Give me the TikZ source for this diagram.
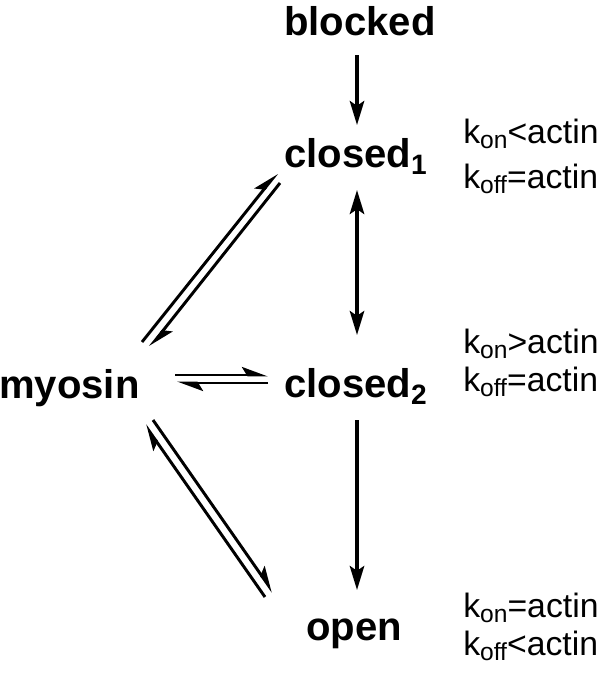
\documentclass[tikz,border=0pt]{standalone}
\usepackage{fontspec}
\setmainfont{Liberation Sans}
\usetikzlibrary{arrows.meta}

\newcommand\lowsub[1]{\raisebox{-0.3ex}{\fontsize{17.5}{18}\selectfont #1}}

\begin{document}
\begin{tikzpicture}[x=0.025cm, y=-0.025cm]

%% ── shared styles ─────────────────────────────────────────────────────────
\tikzset{
  state/.style={inner sep=0pt, font=\fontsize{28.5}{32}\selectfont\bfseries},
  rate/.style ={inner sep=0pt, anchor=base west, font=\fontsize{24}{28}\selectfont},
  arr/.style  ={-{Stealth[length=6mm, width=3.6mm, inset=1.2mm]}, line width=2.5pt},
  darr/.style ={{Stealth[length=6mm, width=3.6mm, inset=1.2mm]}-{Stealth[length=6mm, width=3.6mm, inset=1.2mm]}, line width=2.5pt},
  harp/.style ={-{Stealth[harpoon, length=5.5mm, width=4mm, inset=1.2mm]}, line width=2.1pt},
}

\useasboundingbox (0,0) rectangle (600,677);

%% ── states ────────────────────────────────────────────────────────────────
\node[state, anchor=base]      (blocked) at (360,35)  {blocked};
\node[state, anchor=base west] (closedA) at (284,167) {closed\textsubscript{1}};
\node[state, anchor=base west] (closedB) at (284,397) {closed\textsubscript{2}};
\node[state, anchor=base west] (myosin)  at (-1,398)  {myosin};
\node[state, anchor=base]      (open)    at (354,640) {open};

%% ── rate labels ───────────────────────────────────────────────────────────
\node[rate] (onA)  at (463,143) {k\lowsub{on}<actin};
\node[rate] (offA) at (463,188) {k\lowsub{off}=actin};
\node[rate] (onB)  at (463,353) {k\lowsub{on}>actin};
\node[rate] (offB) at (463,391) {k\lowsub{off}=actin};
\node[rate] (onC)  at (463,617) {k\lowsub{on}=actin};
\node[rate] (offC) at (463,655) {k\lowsub{off}<actin};

%% ── vertical transitions ──────────────────────────────────────────────────
\draw[arr]  ([shift={(-3,20)}]blocked.base)      -- ([shift={(73,-42)}]closedA.base west);
\draw[darr] ([shift={(73,23)}]closedA.base west) -- ([shift={(73,-62)}]closedB.base west);
\draw[arr]  ([shift={(73,23)}]closedB.base west) -- ([shift={(3,-50)}]open.base);

%% ── myosin binding (harpoon pairs) ────────────────────────────────────────
\draw[harp] ([shift={(143,-56)}]myosin.base west) -- ([shift={(-7,6)}]closedA.base west);
\draw[harp] ([shift={(-4,16)}]closedA.base west)  -- ([shift={(151,-51)}]myosin.base west);

\draw[harp] ([shift={(176,-23)}]myosin.base west)  -- ([shift={(-16,-22)}]closedB.base west);
\draw[harp] ([shift={(-16,-14)}]closedB.base west) -- ([shift={(178,-15)}]myosin.base west);

\draw[harp] ([shift={(-89,-43)}]open.base)        -- ([shift={(146,27)}]myosin.base west);
\draw[harp] ([shift={(154,22)}]myosin.base west)  -- ([shift={(-81,-48)}]open.base);

\end{tikzpicture}
\end{document}
